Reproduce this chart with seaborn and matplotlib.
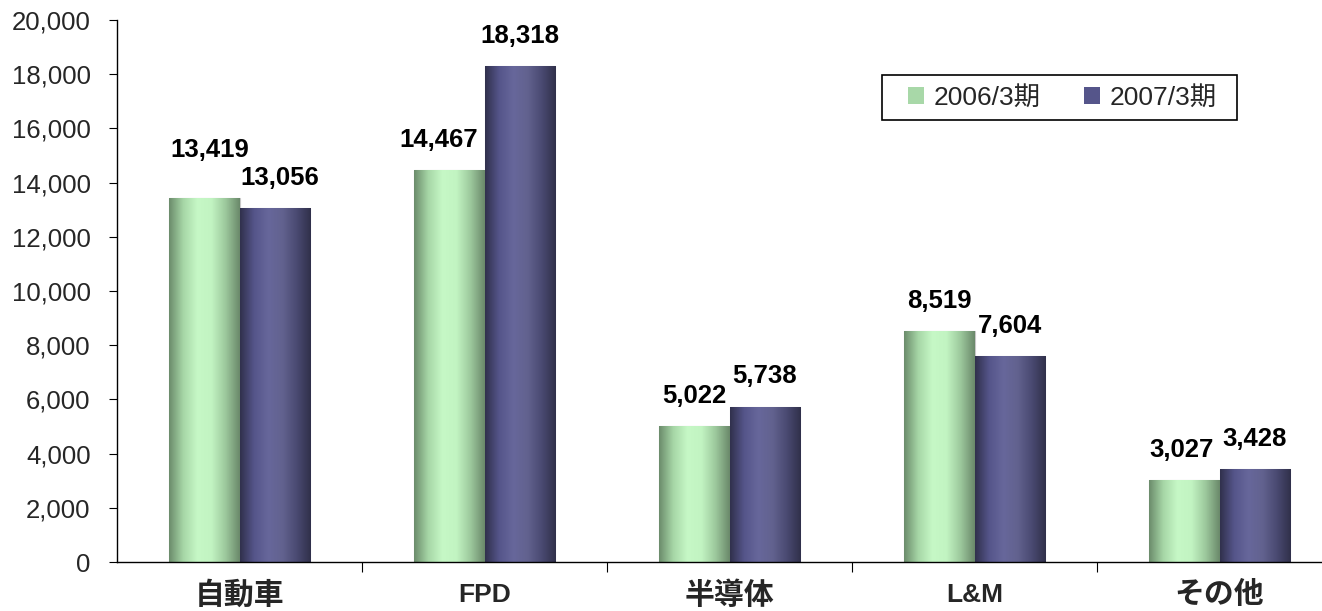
import numpy as np
import pandas as pd
import matplotlib
matplotlib.use("Agg")
import matplotlib.pyplot as plt
from matplotlib.colors import LinearSegmentedColormap
from matplotlib.patches import Patch, Rectangle
import seaborn as sns

categories = ["自動車", "FPD", "半導体", "L&M", "その他"]
series = ["2006/3期", "2007/3期"]
values_2006 = [13419, 14467, 5022, 8519, 3027]
values_2007 = [13056, 18318, 5738, 7604, 3428]
y_ticks = list(range(0, 20001, 2000))

df = pd.DataFrame({
    "category": categories * 2,
    "period": [series[0]] * len(categories) + [series[1]] * len(categories),
    "value": values_2006 + values_2007,
})

sns.set_theme(style="white")
plt.rcParams["font.family"] = ["Liberation Sans", "Noto Sans CJK JP"]

W, H = 1322, 611
fig = plt.figure(figsize=(W / 100, H / 100), dpi=100)
left, right, top, bottom = 117, 1322, 20, 562
ax = fig.add_axes([left / W, 1 - bottom / H, (right - left) / W, (bottom - top) / H])

mid_colors = {series[0]: "#a8d8a8", series[1]: "#55558a"}
sns.barplot(data=df, x="category", y="value", hue="period", order=categories,
            hue_order=series, palette=mid_colors, width=0.572, ax=ax,
            legend=False, saturation=1)

# cylinder-like horizontal shading for each series
cmaps = {
    0: LinearSegmentedColormap.from_list("g", ["#6b8b6b", "#a6d6a6", "#c6f8c6", "#c2f4c2", "#9cc89c", "#6a886a"]),
    1: LinearSegmentedColormap.from_list("p", ["#30304c", "#55558a", "#67679b", "#62628f", "#4a4a72", "#30304a"]),
}
# small nudges (points) for value labels that would otherwise crowd each other
label_nudge = {
    0: [(3.5, 13), (-8, 0), (0, 0), (0, 0), (-2, 0)],
    1: [(4, 0), (0, 0), (0, 0), (0, 0), (0, 0)],
}
pad = 13
grad = np.linspace(0, 1, 256).reshape(1, -1)
for i, container in enumerate(ax.containers):
    for bar in container:
        x0, w, h = bar.get_x(), bar.get_width(), bar.get_height()
        bar.set_edgecolor("#c8c8c8")
        bar.set_linewidth(0.8)
        im = ax.imshow(grad, cmap=cmaps[i], extent=[x0, x0 + w, 0, h],
                       aspect="auto", zorder=bar.get_zorder() + 0.1, interpolation="bicubic")
        im.set_clip_path(bar)
    anns = ax.bar_label(container, labels=[f"{v:,.0f}" for v in container.datavalues],
                        padding=pad, fontsize=18.5, fontweight="bold", color="black")
    for ann, (dx, dy) in zip(anns, label_nudge[i]):
        ann.xyann = (dx, pad + dy)

ax.set_xlim(-0.5, 4.5 - 20 / 245)
ax.set_ylim(0, 20000)
ax.set_yticks(y_ticks)
ax.set_yticklabels([f"{t:,}" for t in y_ticks], fontsize=18.5)
ax.set_xticks(range(len(categories)))
ax.set_xticklabels(categories, fontweight="bold")
for lbl in ax.get_xticklabels():
    txt = lbl.get_text()
    lbl.set_fontsize(19 if txt.isascii() else 21.5)
    lbl.set_verticalalignment("center")
ax.set_xticks([0.5, 1.5, 2.5, 3.5], minor=True)
ax.tick_params(axis="x", which="major", length=0, pad=24)
ax.tick_params(axis="x", which="minor", length=7, width=0.8, color="black", direction="out", bottom=True)
ax.tick_params(axis="y", length=6, width=0.8, color="black", direction="out", left=True, pad=13)
ax.set_xlabel("")
ax.set_ylabel("")
for s in ["top", "right"]:
    ax.spines[s].set_visible(False)
for s in ["left", "bottom"]:
    ax.spines[s].set_color("black")
    ax.spines[s].set_linewidth(1.0)

# legend entries without frame, boxed by a separate rectangle
bx0, by0, bx1, by1 = 882, 75, 1237, 120
fig.patches.append(Rectangle((bx0 / W, 1 - by1 / H), (bx1 - bx0) / W, (by1 - by0) / H,
                             transform=fig.transFigure, facecolor="white",
                             edgecolor="black", linewidth=1.2, zorder=5))
handles = [Patch(facecolor=mid_colors[s], edgecolor="none") for s in series]
leg = fig.legend(handles, series, ncol=2, loc="center",
                 bbox_to_anchor=((bx0 + bx1) / 2 / W + 3 / W, 1 - (by0 + by1) / 2 / H),
                 fontsize=19, frameon=False, handlelength=0.6,
                 handleheight=0.6, handletextpad=0.38, columnspacing=1.65,
                 borderpad=0.2)
leg.set_zorder(6)

fig.savefig("out.png", dpi=100)
